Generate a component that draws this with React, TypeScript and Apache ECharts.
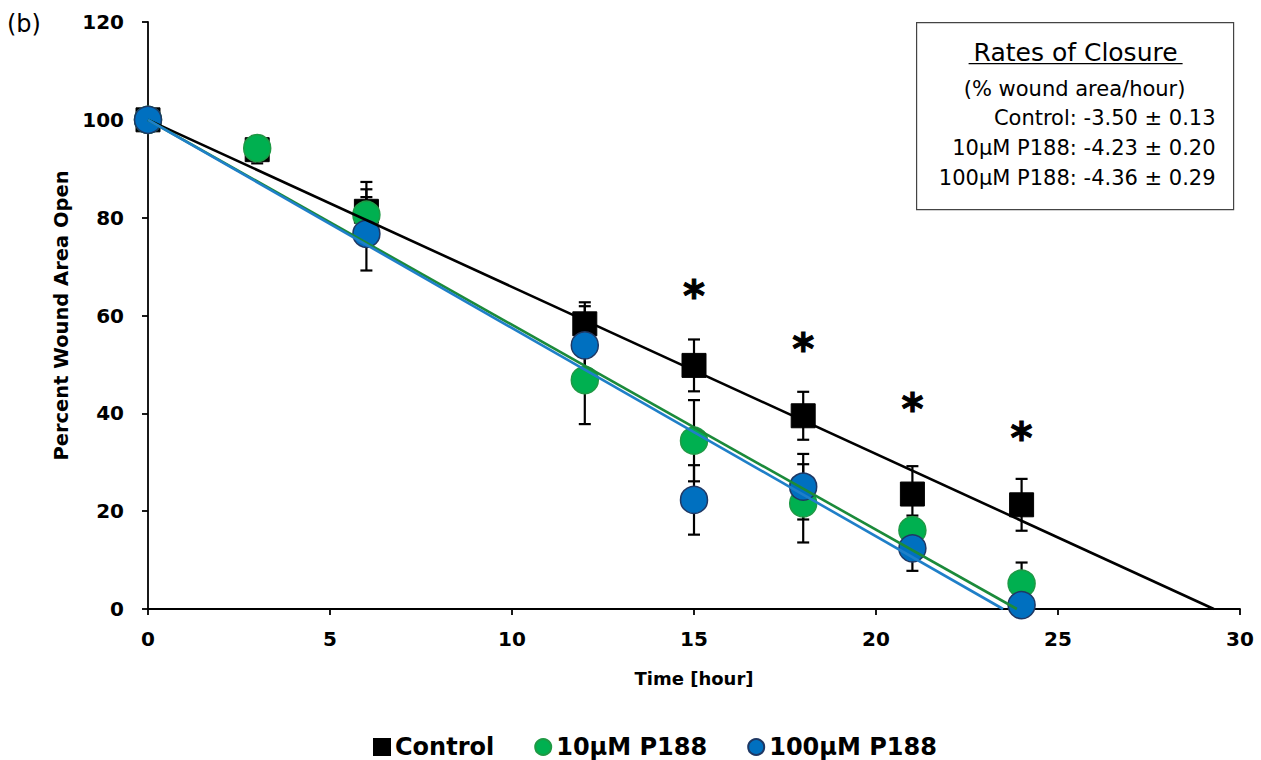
import React, { useEffect, useRef } from "react";
import * as echarts from "echarts";

// ---- data ----
const controlTimes = [0, 3, 6, 12, 15, 18, 21, 24];
const controlValues = [100, 93.9, 81.3, 58.3, 49.8, 39.5, 23.5, 21.3];
const controlErr = [0, 2.8, 6.0, 4.4, 5.3, 4.9, 5.7, 5.3];

const p10Times = [0, 3, 6, 12, 15, 18, 21, 24];
const p10Values = [100, 94.2, 80.6, 46.8, 34.4, 21.6, 16.1, 5.2];
const p10Err = [0, 2.0, 5.2, 9.0, 8.3, 8.0, 3.0, 4.3];

const p100Times = [0, 6, 12, 15, 18, 21, 24];
const p100Values = [100, 76.7, 53.9, 22.3, 25.0, 12.4, 0.8];
const p100Err = [0, 7.5, 8.0, 7.1, 6.7, 4.6, 1.0];

// linear trend lines: [time, value] at start and at x-intercept
const controlTrend = [[0, 100], [29.28, 0]];
const p10Trend = [[0, 100], [23.87, 0]];
const p100Trend = [[0, 100], [23.49, 0]];

// significance markers
const sigTimes = [15, 18, 21, 24];
const sigLevels = [64.8, 53.9, 41.7, 35.6];

const xTicks = [0, 5, 10, 15, 20, 25, 30];
const yTicks = [0, 20, 40, 60, 80, 100, 120];

const seriesNames = ["Control", "10μM P188", "100μM P188"];
const rateTitle = "Rates of Closure";
const rateUnit = "(% wound area/hour)";
const rateLines = [
  "Control: -3.50 ± 0.13",
  "10μM P188: -4.23 ± 0.20",
  "100μM P188: -4.36 ± 0.29",
];

const FONT = "DejaVu Sans";

function zip(t: number[], v: number[]) {
  return t.map((x, i) => [x, v[i]]);
}
function zip3(t: number[], v: number[], e: number[]) {
  return t.map((x, i) => [x, v[i], e[i]]);
}

function errorSeries(data: number[][]) {
  return {
    type: "custom",
    silent: true,
    data,
    encode: { x: 0, y: 1 },
    renderItem: (params: any, api: any) => {
      const x = api.value(0);
      const y = api.value(1);
      const e = api.value(2);
      if (!e) return { type: "group", children: [] };
      const top = api.coord([x, y + e]);
      const bot = api.coord([x, y - e]);
      const hw = 6;
      const st = { stroke: "#000", lineWidth: 2.2 };
      return {
        type: "group",
        children: [
          { type: "line", shape: { x1: top[0], y1: top[1], x2: bot[0], y2: bot[1] }, style: st },
          { type: "line", shape: { x1: top[0] - hw, y1: top[1], x2: top[0] + hw, y2: top[1] }, style: st },
          { type: "line", shape: { x1: bot[0] - hw, y1: bot[1], x2: bot[0] + hw, y2: bot[1] }, style: st },
        ],
      };
    },
  };
}

export default function App() {
  const ref = useRef<HTMLDivElement>(null);
  useEffect(() => {
    document.body.style.margin = "0";
    const chart = echarts.init(ref.current!, null, { renderer: "svg" });
    const boxX = 916, boxY = 22, boxW = 317, boxH = 187;
    const option: any = {
      animation: false,
      backgroundColor: "#fff",
      grid: { left: 148, right: 21, top: 22, bottom: 151 },
      xAxis: {
        type: "value",
        min: xTicks[0],
        max: xTicks[xTicks.length - 1],
        interval: xTicks[1] - xTicks[0],
        name: "Time [hour]",
        nameLocation: "middle",
        nameGap: 60,
        nameTextStyle: { fontFamily: FONT, fontWeight: "bold", fontSize: 18, color: "#000" },
        axisLine: { show: true, onZero: false, lineStyle: { color: "#000", width: 1.8 } },
        axisTick: { show: true, inside: false, length: 6, lineStyle: { color: "#000", width: 1.8 } },
        axisLabel: { margin: 20, fontFamily: FONT, fontWeight: "bold", fontSize: 20, color: "#000" },
        splitLine: { show: false },
      },
      yAxis: {
        type: "value",
        min: yTicks[0],
        max: yTicks[yTicks.length - 1],
        interval: yTicks[1] - yTicks[0],
        name: "Percent Wound Area Open",
        nameLocation: "middle",
        nameGap: 73,
        nameTextStyle: { fontFamily: FONT, fontWeight: "bold", fontSize: 19.5, color: "#000" },
        axisLine: { show: true, lineStyle: { color: "#000", width: 1.8 } },
        axisTick: { show: true, inside: false, length: 6, lineStyle: { color: "#000", width: 1.8 } },
        axisLabel: { margin: 24, fontFamily: FONT, fontWeight: "bold", fontSize: 20, color: "#000" },
        splitLine: { show: false },
      },
      legend: {
        left: 368,
        top: 730,
        itemWidth: 16,
        itemHeight: 16,
        itemGap: 40,
        textStyle: { fontFamily: FONT, fontWeight: "bold", fontSize: 24, color: "#000" },
        data: [
          { name: seriesNames[0], icon: "rect" },
          { name: seriesNames[1], icon: "circle" },
          { name: seriesNames[2], icon: "circle" },
        ],
      },
      series: [
        errorSeries(zip3(controlTimes, controlValues, controlErr)),
        {
          name: seriesNames[0],
          type: "scatter",
          data: zip(controlTimes, controlValues),
          symbol: "rect",
          symbolSize: 24,
          itemStyle: { color: "#000", borderColor: "#000", borderWidth: 1, opacity: 1 },
        },
        errorSeries(zip3(p10Times, p10Values, p10Err)),
        {
          name: seriesNames[1],
          type: "scatter",
          data: zip(p10Times, p10Values),
          symbol: "circle",
          symbolSize: 27,
          itemStyle: { color: "#00B050", borderColor: "#1E9A45", borderWidth: 1.5, opacity: 1 },
        },
        errorSeries(zip3(p100Times, p100Values, p100Err)),
        {
          name: seriesNames[2],
          type: "scatter",
          data: zip(p100Times, p100Values),
          symbol: "circle",
          symbolSize: 27,
          itemStyle: { color: "#0070C0", borderColor: "#1F3864", borderWidth: 1.5, opacity: 1 },
        },
        {
          type: "line",
          data: controlTrend,
          showSymbol: false,
          symbol: "none",
          silent: true,
          lineStyle: { color: "#000", width: 2.6 },
        },
        {
          type: "line",
          data: p10Trend,
          showSymbol: false,
          symbol: "none",
          silent: true,
          lineStyle: { color: "#1B8A3A", width: 2.6 },
        },
        {
          type: "line",
          data: p100Trend,
          showSymbol: false,
          symbol: "none",
          silent: true,
          lineStyle: { color: "#1F7FC8", width: 2.6 },
        },
        {
          type: "scatter",
          data: zip(sigTimes, sigLevels),
          symbolSize: 0,
          itemStyle: { color: "#000", opacity: 1 },
          silent: true,
          label: {
            show: true,
            position: "inside",
            formatter: "*",
            fontFamily: FONT,
            fontWeight: "bold",
            fontSize: 42,
            color: "#000000",
            opacity: 1,
            textBorderWidth: 1,
            textBorderColor: "#000000",
            offset: [0, 4],
          },
        },
      ],
      graphic: [
        {
          type: "text",
          left: 7,
          top: 12,
          style: { text: "(b)", font: `24px "${FONT}"`, fill: "#000" },
        },
        {
          type: "group",
          left: boxX,
          top: boxY,
          children: [
            {
              type: "rect",
              shape: { x: 0, y: 0, width: boxW, height: boxH },
              style: { fill: "#fff", stroke: "#444", lineWidth: 1.2 },
            },
            {
              type: "text",
              x: 159,
              y: 30,
              style: {
                text: rateTitle,
                font: `25px "${FONT}"`,
                fill: "#000",
                align: "center",
                verticalAlign: "middle",
                textAlign: "center",
                textVerticalAlign: "middle",
              },
            },
            {
              type: "line",
              shape: { x1: 52, y1: 41, x2: 266, y2: 41 },
              style: { stroke: "#000", lineWidth: 1.3 },
            },
            {
              type: "text",
              x: 158,
              y: 66,
              style: {
                text: rateUnit,
                font: `21px "${FONT}"`,
                fill: "#000",
                align: "center",
                verticalAlign: "middle",
                textAlign: "center",
                textVerticalAlign: "middle",
              },
            },
            ...rateLines.map((t, i) => ({
              type: "text",
              x: 299,
              y: 95 + i * 30,
              style: {
                text: t,
                font: `21px "${FONT}"`,
                fill: "#000",
                align: "right",
                verticalAlign: "middle",
                textAlign: "right",
                textVerticalAlign: "middle",
              },
            })),
          ],
        },
      ],
    };
    chart.setOption(option);
    return () => chart.dispose();
  }, []);
  return <div ref={ref} style={{ width: 1261, height: 760 }} />;
}
